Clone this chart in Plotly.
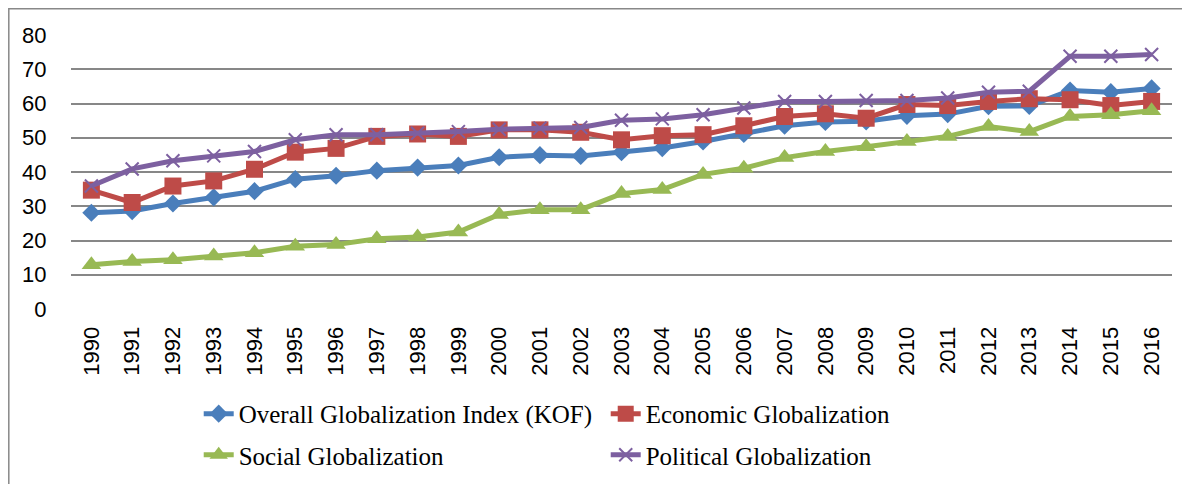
import plotly.graph_objects as go

years = [str(y) for y in range(1990, 2017)]

overall = [28.1, 28.6, 30.8, 32.6, 34.4, 37.9, 38.9, 40.4, 41.3, 41.9, 44.3, 44.9, 44.7,
           45.8, 47.0, 48.9, 51.1, 53.5, 54.6, 54.8, 56.4, 56.9, 59.2, 59.3, 63.8, 63.3, 64.4]
economic = [34.7, 31.1, 35.9, 37.4, 40.8, 45.8, 46.9, 50.4, 51.1, 50.4, 52.3, 52.3, 51.6,
            49.4, 50.6, 50.9, 53.5, 56.2, 57.0, 55.7, 59.7, 59.4, 60.6, 61.4, 61.1, 59.4, 60.6]
social = [12.9, 13.9, 14.4, 15.5, 16.4, 18.3, 18.8, 20.5, 21.0, 22.5, 27.6, 29.0, 29.0,
          33.7, 34.9, 39.3, 41.1, 44.2, 46.0, 47.4, 48.9, 50.4, 53.3, 51.8, 56.2, 56.7, 57.9]
political = [35.9, 40.9, 43.3, 44.7, 46.0, 49.4, 50.9, 50.9, 51.3, 51.8, 52.5, 52.8, 53.0,
             55.1, 55.5, 56.7, 58.7, 60.6, 60.6, 60.9, 60.9, 61.6, 63.3, 63.6, 73.8, 73.8, 74.3]

names = ["Overall Globalization Index (KOF)", "Economic Globalization",
         "Social Globalization", "Political Globalization"]

fig = go.Figure()
fig.add_trace(go.Scatter(x=years, y=overall, name=names[0], mode="lines+markers",
                         line=dict(color="#4A7EBB", width=5),
                         marker=dict(symbol="diamond", size=14, color="#4A7EBB"),
                         legend="legend"))
fig.add_trace(go.Scatter(x=years, y=economic, name=names[1], mode="lines+markers",
                         line=dict(color="#BE4B48", width=5),
                         marker=dict(symbol="square", size=17, color="#BE4B48"),
                         legend="legend"))
fig.add_trace(go.Scatter(x=years, y=social, name=names[2], mode="lines+markers",
                         line=dict(color="#98B954", width=5),
                         marker=dict(symbol="triangle-up", size=17, color="#98B954"),
                         legend="legend2"))
fig.add_trace(go.Scatter(x=years, y=political, name=names[3], mode="lines+markers",
                         line=dict(color="#7D60A0", width=5),
                         marker=dict(symbol="x-thin", size=13, color="#7D60A0",
                                     line=dict(color="#7D60A0", width=2)),
                         legend="legend2"))

W, H = 1182, 476
L, R, T, B = 63, 18, 27, 175
pw, ph = W - L - R, H - T - B

legend_font = dict(family="Liberation Serif", size=25, color="black")
tick_font = dict(family="Liberation Sans", size=22, color="black")
fig.update_layout(
    width=W, height=H,
    margin=dict(l=L, r=R, t=T, b=B, autoexpand=False),
    paper_bgcolor="white", plot_bgcolor="white",
    font=tick_font,
    showlegend=True,
    legend=dict(orientation="h", x=0.116, y=-0.383, xanchor="left", yanchor="middle",
                font=legend_font, entrywidth=362, entrywidthmode="pixels",
                bgcolor="rgba(0,0,0,0)", traceorder="normal"),
    legend2=dict(orientation="h", x=0.116, y=-0.533, xanchor="left", yanchor="middle",
                 font=legend_font, entrywidth=362, entrywidthmode="pixels",
                 bgcolor="rgba(0,0,0,0)", traceorder="normal"),
    xaxis=dict(type="category", range=[-0.5, len(years) - 0.5], tickangle=-90,
               showgrid=False, showline=False,
               ticks="outside", ticklen=8, tickcolor="rgba(0,0,0,0)", automargin=False,
               tickfont=tick_font, zeroline=False),
    yaxis=dict(range=[0, 80], dtick=10, showgrid=True, gridcolor="#878787", gridwidth=1.5,
               zeroline=False, showline=False, ticks="outside", ticklen=19,
               tickcolor="rgba(0,0,0,0)", automargin=False,
               tickfont=tick_font),
    shapes=[dict(type="rect", xref="paper", yref="paper",
                 x0=(0.8 - L) / pw, x1=1.05, y0=-0.7, y1=(H - B - 0.8) / ph,
                 line=dict(color="#888888", width=1.5), fillcolor="rgba(0,0,0,0)",
                 layer="below")],
)

fig.write_html("out.html")
